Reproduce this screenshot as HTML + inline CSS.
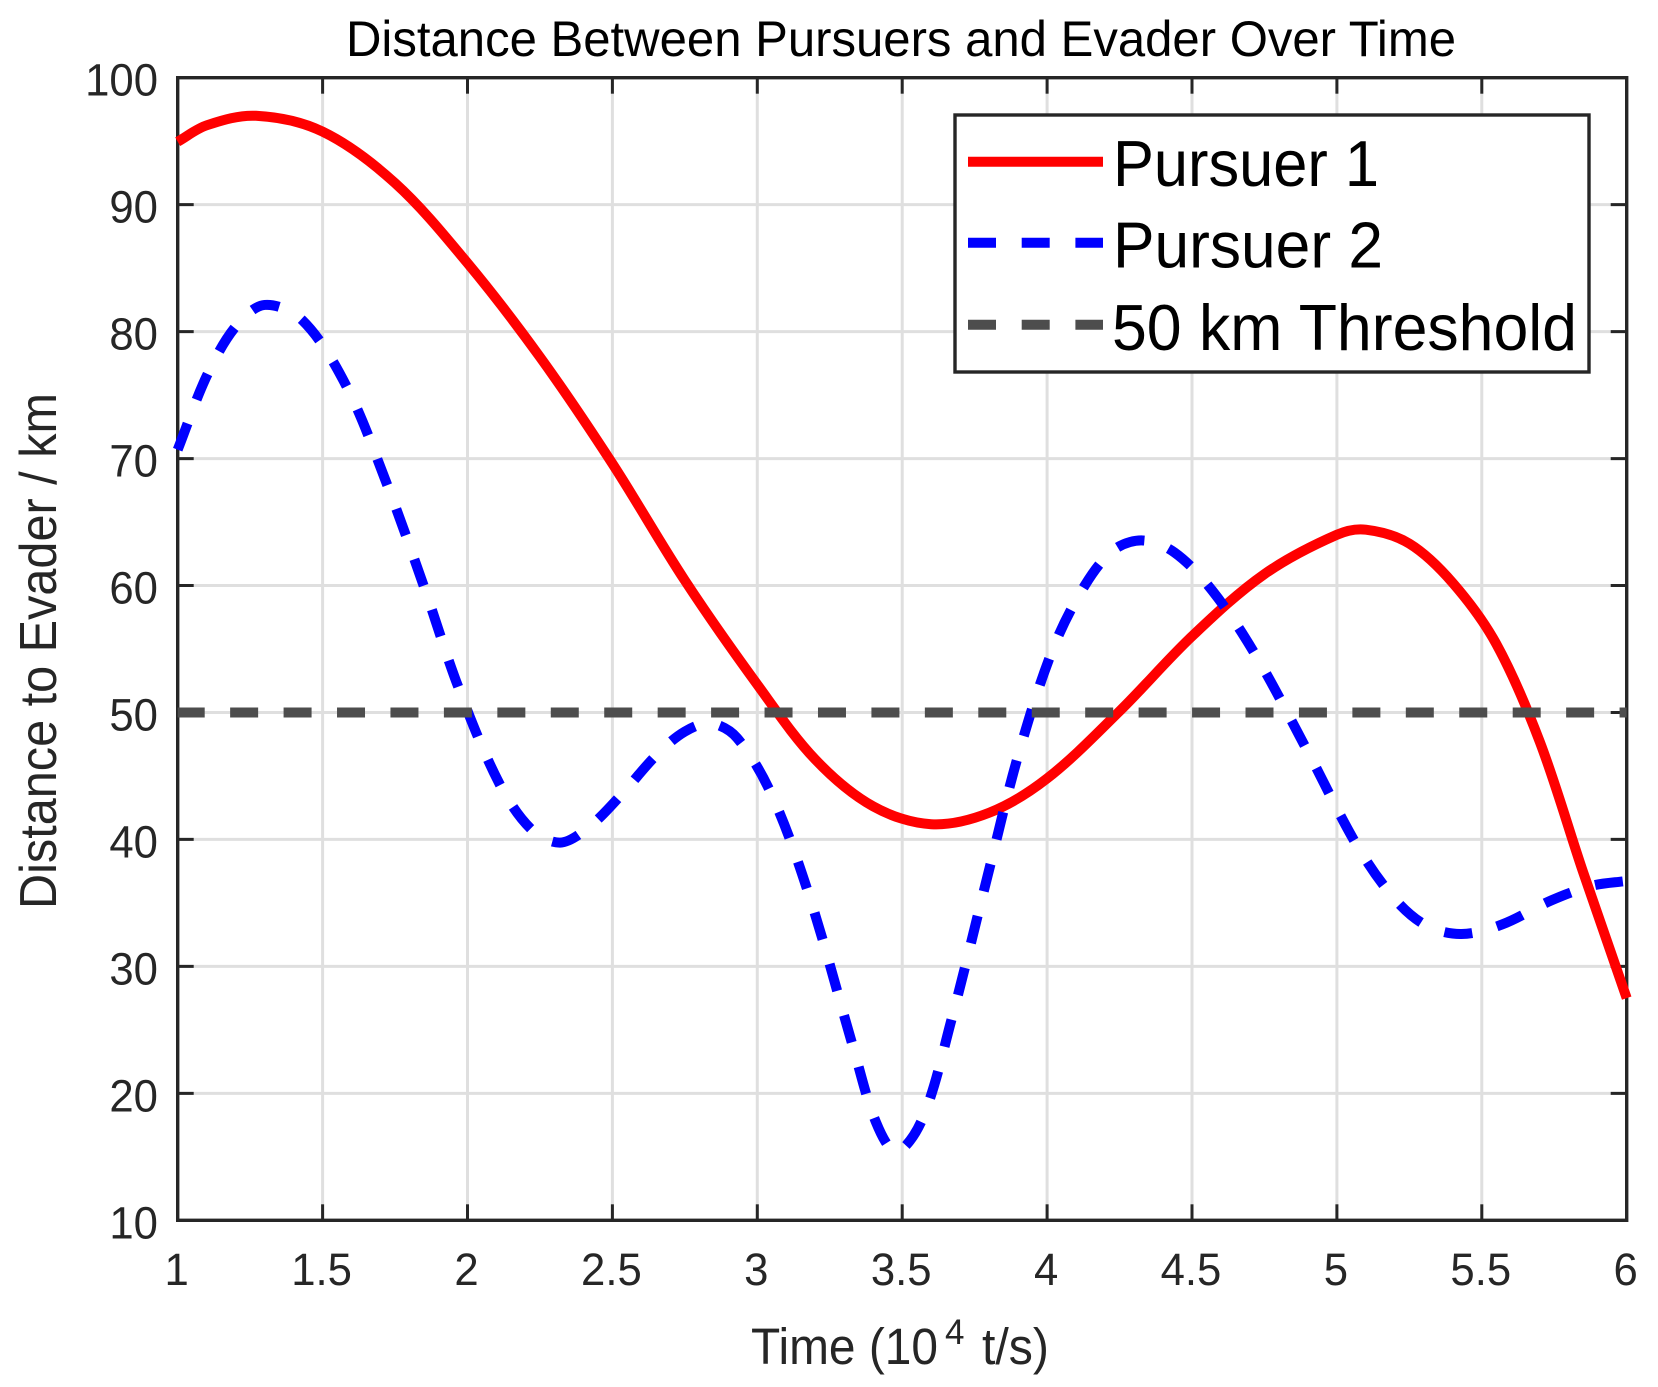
<!DOCTYPE html>
<html lang="en">
<head>
<meta charset="utf-8">
<title>Distance Between Pursuers and Evader Over Time</title>
<style>
  html, body { margin: 0; padding: 0; background: #fff; }
  svg { display: block; }
  text { font-family: "Liberation Sans", Arial, sans-serif; }
</style>
</head>
<body>
<svg id="chart" xmlns="http://www.w3.org/2000/svg" width="1658" height="1387" viewBox="0 0 1658 1387">
  <rect width="1658" height="1387" fill="#fff"/>
  <g id="grid"></g>
  <rect x="177.7" y="77.7" width="1449" height="1142.6" fill="none" stroke="#262626" stroke-width="3.4"/>
  <g id="ticks"></g>
  <g id="tick-labels"></g>
  <g id="series"></g>

  <text x="346" y="56" font-size="50" fill="#000" textLength="1110" lengthAdjust="spacingAndGlyphs">Distance Between Pursuers and Evader Over Time</text>
  <text transform="translate(56,909) rotate(-90)" font-size="52" fill="#262626" textLength="516" lengthAdjust="spacingAndGlyphs">Distance to Evader / km</text>
  <text x="751" y="1364" font-size="51" fill="#262626" textLength="187" lengthAdjust="spacingAndGlyphs">Time (10</text>
  <text x="945" y="1344" font-size="35" fill="#262626">4</text>
  <text x="982" y="1364" font-size="51" fill="#262626" textLength="67" lengthAdjust="spacingAndGlyphs">t/s)</text>

  <g>
    <rect x="955" y="115" width="634" height="257" fill="#fff" stroke="#262626" stroke-width="3.4"/>
    <line x1="968" x2="1103" y1="161.7" y2="161.7" stroke="#ff0000" stroke-width="10"/>
    <line x1="968" x2="1103" y1="242.7" y2="242.7" stroke="#0000ff" stroke-width="10" stroke-dasharray="28 25.7"/>
    <line x1="968" x2="1103" y1="324.7" y2="324.7" stroke="#4d4d4d" stroke-width="10" stroke-dasharray="28 25.7"/>
    <text x="1113" y="186" font-size="65" fill="#000" textLength="266" lengthAdjust="spacingAndGlyphs">Pursuer 1</text>
    <text x="1113" y="267.7" font-size="65" fill="#000" textLength="270" lengthAdjust="spacingAndGlyphs">Pursuer 2</text>
    <text x="1112" y="350" font-size="65" fill="#000" textLength="465" lengthAdjust="spacingAndGlyphs">50 km Threshold</text>
  </g>
</svg>
<script>
const xTicks = [1, 1.5, 2, 2.5, 3, 3.5, 4, 4.5, 5, 5.5, 6];
const xTickLabels = ["1", "1.5", "2", "2.5", "3", "3.5", "4", "4.5", "5", "5.5", "6"];
const yTicks = [10, 20, 30, 40, 50, 60, 70, 80, 90, 100];
const yTickLabels = ["10", "20", "30", "40", "50", "60", "70", "80", "90", "100"];

const pursuer1Time = [1, 1.1, 1.27, 1.5, 1.75, 2, 2.25, 2.5, 2.75, 3, 3.2, 3.4, 3.6, 3.8, 4, 4.25, 4.5, 4.75, 5, 5.1, 5.25, 5.4, 5.55, 5.7, 5.85, 6];
const pursuer1Distance = [94.96, 96.25, 97, 95.75, 91.7, 85.4, 78, 69.6, 60.4, 52.2, 46.3, 42.6, 41.2, 42.1, 44.8, 50.1, 56, 60.9, 64, 64.4, 63.3, 60.2, 55.4, 47.7, 37.4, 27.5];

const pursuer2Time = [1, 1.1, 1.2, 1.3, 1.43, 1.58, 1.72, 1.85, 1.97, 2.11, 2.22, 2.32, 2.42, 2.53, 2.65, 2.75, 2.84, 2.93, 3.05, 3.18, 3.33, 3.41, 3.48, 3.57, 3.67, 3.79, 3.9, 4.02, 4.13, 4.23, 4.33, 4.44, 4.57, 4.72, 4.9, 5.07, 5.2, 5.31, 5.43, 5.57, 5.74, 5.88, 6];
const pursuer2Distance = [70.7, 76.5, 80.4, 82.1, 80.9, 75.8, 68.1, 59.9, 51.9, 44.4, 40.8, 39.75, 41, 43.5, 46.6, 48.5, 49.15, 48, 43.5, 35.5, 23.7, 17.7, 15.4, 18, 25.8, 36.7, 46.6, 55, 60, 62.8, 63.55, 62.6, 59.6, 54.5, 46.9, 39.5, 35.3, 33.2, 32.55, 33.3, 35.2, 36.35, 36.73];

const thresholdTime = [1, 6];
const thresholdDistance = [50, 50];

const SVG_NS = "http://www.w3.org/2000/svg";
const plot = { left: 177.7, right: 1626.7, top: 77.7, bottom: 1220.3 };
const xMin = 1, xMax = 6, yMin = 10, yMax = 100;

function xScale(v) {
  return plot.left + (v - xMin) / (xMax - xMin) * (plot.right - plot.left);
}
function yScale(v) {
  return plot.bottom - (v - yMin) / (yMax - yMin) * (plot.bottom - plot.top);
}
function makeLine(parent, x1, y1, x2, y2, color, width) {
  const el = document.createElementNS(SVG_NS, "line");
  el.setAttribute("x1", x1);
  el.setAttribute("y1", y1);
  el.setAttribute("x2", x2);
  el.setAttribute("y2", y2);
  el.setAttribute("stroke", color);
  el.setAttribute("stroke-width", width);
  parent.appendChild(el);
  return el;
}
function makeLabel(parent, x, y, anchor, content) {
  const el = document.createElementNS(SVG_NS, "text");
  el.setAttribute("x", x);
  el.setAttribute("y", y);
  el.setAttribute("text-anchor", anchor);
  el.setAttribute("font-size", "45.5");
  el.setAttribute("fill", "#262626");
  el.textContent = content;
  parent.appendChild(el);
  el.setAttribute("textLength", (el.getComputedTextLength() * 0.96).toFixed(2));
  el.setAttribute("lengthAdjust", "spacingAndGlyphs");
  return el;
}
function curvePath(xs, ys) {
  const pts = xs.map(function (x, i) { return [xScale(x), yScale(ys[i])]; });
  if (pts.length < 3) {
    return "M" + pts.map(function (p) { return p[0].toFixed(2) + " " + p[1].toFixed(2); }).join("L");
  }
  const chord = [];
  for (let i = 0; i < pts.length - 1; i++) {
    chord.push(Math.hypot(pts[i + 1][0] - pts[i][0], pts[i + 1][1] - pts[i][1]));
  }
  const tangents = pts.map(function (p, i) {
    if (i === 0) return [(pts[1][0] - p[0]) / chord[0], (pts[1][1] - p[1]) / chord[0]];
    if (i === pts.length - 1) return [(p[0] - pts[i - 1][0]) / chord[i - 1], (p[1] - pts[i - 1][1]) / chord[i - 1]];
    const d = chord[i - 1] + chord[i];
    return [(pts[i + 1][0] - pts[i - 1][0]) / d, (pts[i + 1][1] - pts[i - 1][1]) / d];
  });
  let d = "M" + pts[0][0].toFixed(2) + " " + pts[0][1].toFixed(2);
  for (let i = 0; i < pts.length - 1; i++) {
    const h = chord[i] / 3;
    d += "C" + (pts[i][0] + tangents[i][0] * h).toFixed(2) + " " + (pts[i][1] + tangents[i][1] * h).toFixed(2) + " " +
      (pts[i + 1][0] - tangents[i + 1][0] * h).toFixed(2) + " " + (pts[i + 1][1] - tangents[i + 1][1] * h).toFixed(2) + " " +
      pts[i + 1][0].toFixed(2) + " " + pts[i + 1][1].toFixed(2);
  }
  return d;
}

const gridGroup = document.getElementById("grid");
const tickGroup = document.getElementById("ticks");
const labelGroup = document.getElementById("tick-labels");
const seriesGroup = document.getElementById("series");
const tickLen = 16;

xTicks.forEach(function (v, i) {
  const x = xScale(v);
  if (v !== xMin && v !== xMax) {
    const gridLine = makeLine(gridGroup, x, plot.top, x, plot.bottom, "#dfdfdf", 3);
    
    
    const tickBottom = makeLine(tickGroup, x, plot.bottom, x, plot.bottom - tickLen, "#262626", 3);
    
    
    const tickTop = makeLine(tickGroup, x, plot.top, x, plot.top + tickLen, "#262626", 3);
    
    
  }
  const xLabel = makeLabel(labelGroup, x - 1, 1285, "middle", xTickLabels[i]);
  
  
});

yTicks.forEach(function (v, i) {
  const y = yScale(v);
  if (v !== yMin && v !== yMax) {
    const gridLine = makeLine(gridGroup, plot.left, y, plot.right, y, "#dfdfdf", 3);
    
    
    const tickLeft = makeLine(tickGroup, plot.left, y, plot.left + tickLen, y, "#262626", 3);
    
    
    const tickRight = makeLine(tickGroup, plot.right, y, plot.right - tickLen, y, "#262626", 3);
    
    
  }
  const yLabel = makeLabel(labelGroup, 158, y + 18, "end", yTickLabels[i]);
  
  
});

function makeSeries(xs, ys, color, dash) {
  const el = document.createElementNS(SVG_NS, "path");
  el.setAttribute("d", curvePath(xs, ys));
  el.setAttribute("fill", "none");
  el.setAttribute("stroke", color);
  el.setAttribute("stroke-width", "10");
  el.setAttribute("stroke-linejoin", "round");
  if (dash) el.setAttribute("stroke-dasharray", dash);
  seriesGroup.appendChild(el);
  return el;
}

const pursuer1Line = makeSeries(pursuer1Time, pursuer1Distance, "#ff0000", null);



const pursuer2Line = makeSeries(pursuer2Time, pursuer2Distance, "#0000ff", "28 25.44");



const thresholdLine = makeSeries(thresholdTime, thresholdDistance, "#4d4d4d", "28 25.44");
thresholdLine.setAttribute("stroke-dashoffset", "1");


</script>
</body>
</html>
